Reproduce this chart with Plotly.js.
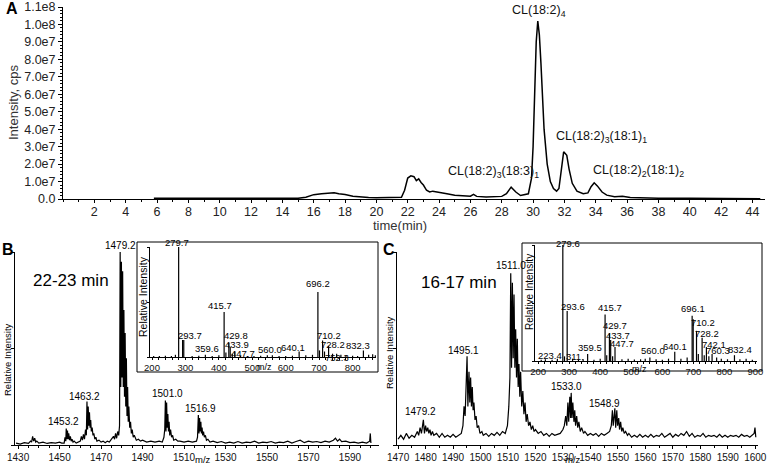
<!DOCTYPE html>
<html>
<head>
<meta charset="utf-8">
<script src="https://cdn.plot.ly/plotly-3.0.1.min.js"></script>
<style>
  html, body { margin: 0; padding: 0; background: #fff; }
  #chart { width: 771px; height: 464px; }
</style>
</head>
<body>
<div id="chart"></div>
<script>
// === Panel A: total ion chromatogram ===
const timeMin = [5.8, 7, 8, 9, 10, 11, 12, 13, 14, 15,
  15.5, 16, 16.5, 17, 17.3, 17.6, 18, 18.5, 19, 19.5,
  20, 21, 21.6, 21.8, 22.0, 22.2, 22.4, 22.55, 22.7, 22.85,
  23.0, 23.2, 23.4, 23.6, 24.0, 24.5, 25, 25.5, 26.0, 26.2,
  26.4, 27, 27.5, 28, 28.3, 28.6, 28.9, 29.2, 29.7, 29.9,
  30.0, 30.1, 30.2, 30.3, 30.4, 30.5, 30.6, 30.7, 30.9, 31.1,
  31.3, 31.5, 31.65, 31.8, 31.95, 32.05, 32.15, 32.3, 32.5, 32.8,
  33.2, 33.5, 33.7, 33.9, 34.1, 34.4, 34.7, 35.2, 35.7, 36.2,
  37, 38, 40, 42, 44.5];
const intensityCps = [0.5e6, 0.5e6, 0.4e6, 0.5e6, 0.4e6, 0.4e6, 0.3e6, 0.4e6, 0.3e6, 0.4e6,
  1.0e6, 2.5e6, 3.0e6, 3.2e6, 3.6e6, 3.0e6, 2.6e6, 1.6e6, 1.0e6, 0.8e6,
  0.7e6, 0.8e6, 1.0e6, 5.0e6, 12.0e6, 13.3e6, 12.8e6, 10.5e6, 11.5e6, 9.5e6,
  8.0e6, 5.0e6, 4.0e6, 4.5e6, 4.0e6, 3.0e6, 2.2e6, 1.8e6, 1.6e6, 2.6e6,
  1.5e6, 1.2e6, 1.3e6, 1.5e6, 3.0e6, 6.8e6, 4.0e6, 2.0e6, 3.0e6, 12e6,
  30e6, 60e6, 90e6, 102e6, 94e6, 78e6, 58e6, 40e6, 20e6, 10e6,
  6e6, 4.5e6, 6e6, 16e6, 27e6, 26e6, 25e6, 17e6, 9e6, 4.5e6,
  3e6, 3.5e6, 7e6, 9.3e6, 7.5e6, 4e6, 2.2e6, 1.3e6, 1.6e6, 0.8e6,
  0.6e6, 0.5e6, 0.4e6, 0.3e6, 0.1e6];
const aYTicks = [0, 1e7, 2e7, 3e7, 4e7, 5e7, 6e7, 7e7, 8e7, 9e7, 1e8, 1.1e8];
const aYTickText = ['0.0', '1.0e7', '2.0e7', '3.0e7', '4.0e7', '5.0e7', '6.0e7', '7.0e7', '8.0e7', '9.0e7', '1.0e8', '1.1e8'];
const aXTicks = [2, 4, 6, 8, 10, 12, 14, 16, 18, 20, 22, 24, 26, 28, 30, 32, 34, 36, 38, 40, 42, 44];

// === Panel B: MS spectrum 22-23 min ===
const bMz = [
  1429, 1431, 1433, 1435, 1436, 1436.5, 1437, 1437.5, 1438, 1438.5, 1439, 1440, 1442, 1444, 1446, 1448, 1450, 1451,
  1452.2, 1452.6, 1453.0, 1453.2, 1453.5, 1453.8, 1454.1, 1454.4, 1454.8, 1455.2, 1455.6, 1456, 1456.5, 1457, 1458, 1459,
  1460, 1460.5, 1461, 1461.5, 1462, 1462.5, 1462.9, 1463.2, 1463.5, 1463.8, 1464.1, 1464.4, 1464.7, 1465, 1465.3, 1465.7, 1466.1, 1466.5, 1467, 1467.5,
  1468, 1469, 1470, 1471, 1472, 1473, 1474, 1475, 1476, 1476.5, 1477, 1477.5, 1478, 1478.5, 1478.9,
  1479.2, 1479.5, 1479.8, 1480.1, 1480.4, 1480.7, 1481, 1481.3, 1481.6, 1481.9, 1482.2, 1482.5, 1482.8, 1483.1, 1483.4, 1483.8, 1484.2, 1484.6, 1485, 1485.5,
  1486, 1487, 1488, 1489, 1490, 1492, 1494, 1496, 1498, 1499.5, 1500.3, 1500.7,
  1501.0, 1501.3, 1501.6, 1501.9, 1502.2, 1502.5, 1502.8, 1503.1, 1503.5, 1504, 1504.5, 1505, 1506, 1507, 1508, 1510, 1512, 1514, 1516, 1516.5,
  1516.9, 1517.2, 1517.5, 1517.8, 1518.1, 1518.4, 1518.7, 1519, 1519.4, 1519.8, 1520.3, 1520.8, 1521.5, 1522.5, 1524, 1526, 1528, 1530, 1532, 1534,
  1536, 1538, 1540, 1542, 1544, 1546, 1548, 1550, 1552, 1554, 1556, 1558, 1560, 1562, 1564, 1566, 1568, 1570, 1572, 1574,
  1576, 1578, 1580, 1582, 1583, 1584, 1585, 1586, 1588, 1590, 1592, 1594, 1596, 1598, 1599.5, 1599.8, 1600.1];
const bRel = [
  0.01, 0.005, 0.012, 0.008, 0.02, 0.015, 0.045, 0.02, 0.035, 0.015, 0.02, 0.01, 0.015, 0.008, 0.012, 0.01, 0.015, 0.01,
  0.01, 0.04, 0.02, 0.085, 0.03, 0.075, 0.03, 0.06, 0.025, 0.045, 0.02, 0.03, 0.015, 0.02, 0.01, 0.015,
  0.02, 0.045, 0.025, 0.055, 0.03, 0.08, 0.05, 0.225, 0.08, 0.2, 0.1, 0.17, 0.09, 0.13, 0.07, 0.09, 0.05, 0.06, 0.03, 0.04,
  0.02, 0.025, 0.015, 0.02, 0.012, 0.02, 0.015, 0.03, 0.045, 0.03, 0.06, 0.035, 0.07, 0.05, 0.1,
  1.0, 0.3, 0.95, 0.35, 0.9, 0.3, 0.7, 0.25, 0.58, 0.2, 0.45, 0.15, 0.3, 0.12, 0.2, 0.09, 0.12, 0.06, 0.08, 0.04,
  0.05, 0.025, 0.03, 0.02, 0.025, 0.015, 0.02, 0.015, 0.02, 0.015, 0.04, 0.08,
  0.23, 0.07, 0.22, 0.09, 0.16, 0.07, 0.12, 0.05, 0.08, 0.04, 0.05, 0.025, 0.03, 0.02, 0.02, 0.015, 0.02, 0.015, 0.02, 0.04,
  0.155, 0.06, 0.14, 0.07, 0.12, 0.06, 0.09, 0.05, 0.07, 0.04, 0.05, 0.025, 0.03, 0.015, 0.02, 0.012, 0.018, 0.01, 0.015, 0.01,
  0.018, 0.01, 0.015, 0.012, 0.02, 0.01, 0.015, 0.012, 0.018, 0.01, 0.015, 0.012, 0.02, 0.01, 0.018, 0.025, 0.012, 0.02, 0.015, 0.018,
  0.012, 0.02, 0.015, 0.025, 0.035, 0.02, 0.03, 0.018, 0.02, 0.012, 0.015, 0.01, 0.015, 0.01, 0.02, 0.06, 0.01];
const bLabels = ['1453.2', '1463.2', '1479.2', '1501.0', '1516.9'];
const bXTicks = [1430, 1450, 1470, 1490, 1510, 1530, 1550, 1570, 1590];

// B inset: MS/MS fragments
const biMz = [205, 222, 240, 258, 270, 279.7, 291.5, 295, 320, 340, 359.6, 380, 400, 415.7, 421, 429.8, 433.9, 440, 447.7, 465,
  485, 505, 525, 545, 560, 580, 600, 620, 640.1, 660, 680, 696.2, 701, 710.2, 716, 728.2, 740, 752.3, 765, 780,
  800, 815, 832.3, 848, 860, 868];
const biRel = [0.01, 0.008, 0.012, 0.01, 0.02, 1.0, 0.155, 0.155, 0.01, 0.012, 0.02, 0.01, 0.015, 0.41, 0.04, 0.13, 0.09, 0.03, 0.05, 0.012,
  0.008, 0.01, 0.012, 0.015, 0.015, 0.01, 0.008, 0.012, 0.05, 0.015, 0.02, 0.59, 0.06, 0.15, 0.05, 0.1, 0.03, 0.03, 0.02, 0.015,
  0.012, 0.01, 0.06, 0.02, 0.025, 0.015];
const biLabels = ['279.7', '293.7', '359.6', '415.7', '429.8', '433.9', '447.7', '560.0', '640.1', '696.2', '710.2', '728.2', '752.3', '832.3'];
const biXTicks = [200, 300, 400, 500, 600, 700, 800];

// === Panel C: MS spectrum 16-17 min ===
const cMz = [
  1470, 1471, 1472, 1473, 1474, 1475, 1476, 1477, 1477.5, 1478, 1478.5, 1479.2, 1479.6, 1480, 1480.4, 1480.8, 1481.2, 1481.6, 1482, 1482.5,
  1483, 1484, 1485, 1486, 1487, 1488, 1489, 1490, 1491, 1492, 1493, 1493.6, 1494, 1494.4, 1494.8, 1495.1, 1495.4, 1495.8, 1496.1, 1496.4,
  1496.7, 1497, 1497.3, 1497.6, 1498, 1498.4, 1498.8, 1499.3, 1499.8, 1500.5, 1501, 1502, 1503, 1504, 1505, 1506, 1507, 1508, 1509, 1509.8,
  1510.3, 1510.7, 1511.0, 1511.3, 1511.6, 1511.9, 1512.2, 1512.5, 1512.8, 1513.1, 1513.4, 1513.7, 1514, 1514.3, 1514.6, 1515, 1515.4, 1515.8, 1516.2, 1516.6,
  1517, 1517.5, 1518, 1518.5, 1519, 1519.5, 1520, 1521, 1522, 1523, 1524, 1525, 1526, 1527, 1528, 1529, 1530, 1530.5, 1531, 1531.4,
  1531.8, 1532.1, 1532.5, 1532.8, 1533.0, 1533.3, 1533.6, 1534, 1534.3, 1534.6, 1535, 1535.4, 1535.8, 1536.3, 1536.8, 1537.5, 1538, 1539, 1540, 1541,
  1542, 1543, 1544, 1545, 1546, 1547, 1547.6, 1548, 1548.3, 1548.9, 1549.2, 1549.6, 1549.9, 1550.3, 1550.6, 1551, 1551.4, 1551.8, 1552.3, 1552.8,
  1553.5, 1554, 1555, 1556, 1557, 1558, 1559, 1560, 1561, 1562, 1563, 1564, 1565, 1566, 1567, 1568, 1569, 1570, 1571, 1572,
  1573, 1574, 1575, 1576, 1577, 1578, 1579, 1580, 1581, 1582, 1583, 1584, 1585, 1586, 1587, 1588, 1589, 1590, 1591, 1592,
  1593, 1594, 1595, 1596, 1597, 1598, 1599, 1599.6, 1599.9, 1600.2];
const cRel = [
  0.03, 0.05, 0.03, 0.06, 0.035, 0.05, 0.04, 0.07, 0.05, 0.09, 0.06, 0.13, 0.06, 0.1, 0.07, 0.09, 0.06, 0.08, 0.05, 0.07,
  0.05, 0.06, 0.04, 0.06, 0.04, 0.05, 0.04, 0.055, 0.04, 0.05, 0.06, 0.1, 0.2, 0.15, 0.3, 0.46, 0.2, 0.38, 0.22, 0.35,
  0.2, 0.3, 0.18, 0.22, 0.13, 0.15, 0.09, 0.1, 0.06, 0.07, 0.05, 0.06, 0.045, 0.06, 0.05, 0.065, 0.05, 0.07, 0.06, 0.1,
  0.2, 0.35, 0.89, 0.4, 0.84, 0.45, 0.78, 0.4, 0.6, 0.35, 0.55, 0.3, 0.42, 0.25, 0.38, 0.2, 0.28, 0.16, 0.22, 0.12,
  0.16, 0.1, 0.12, 0.08, 0.1, 0.07, 0.08, 0.06, 0.07, 0.05, 0.06, 0.045, 0.06, 0.05, 0.055, 0.06, 0.08, 0.1, 0.15, 0.1,
  0.22, 0.12, 0.25, 0.14, 0.27, 0.14, 0.22, 0.12, 0.18, 0.1, 0.15, 0.09, 0.12, 0.07, 0.09, 0.06, 0.07, 0.05, 0.06, 0.05,
  0.06, 0.045, 0.06, 0.05, 0.06, 0.07, 0.1, 0.18, 0.1, 0.19, 0.09, 0.18, 0.1, 0.14, 0.08, 0.12, 0.07, 0.09, 0.06, 0.07,
  0.05, 0.06, 0.04, 0.05, 0.04, 0.055, 0.04, 0.05, 0.04, 0.055, 0.04, 0.05, 0.045, 0.06, 0.04, 0.05, 0.06, 0.04, 0.055, 0.045,
  0.06, 0.05, 0.07, 0.045, 0.06, 0.04, 0.05, 0.045, 0.06, 0.04, 0.05, 0.045, 0.05, 0.04, 0.055, 0.04, 0.05, 0.04, 0.05, 0.045,
  0.05, 0.04, 0.055, 0.045, 0.05, 0.04, 0.05, 0.06, 0.09, 0.04];
const cLabels = ['1479.2', '1495.1', '1511.0', '1533.0', '1548.9'];
const cXTicks = [1470, 1480, 1490, 1500, 1510, 1520, 1530, 1540, 1550, 1560, 1570, 1580, 1590, 1600];

// C inset: MS/MS fragments
const ciMz = [210, 223.4, 245, 262, 279.6, 285, 293.6, 311, 330, 345, 359.5, 380, 400, 415.7, 421, 429.7, 433.7, 440, 447.7, 470,
  490, 510, 530, 545, 560, 580, 600, 620, 640.1, 660, 680, 696.1, 699.5, 710.2, 716, 728.2, 735, 742.1, 750, 760.3,
  775, 790, 810, 832.4, 850, 870, 890];
const ciRel = [0.01, 0.015, 0.01, 0.02, 1.0, 0.04, 0.43, 0.02, 0.01, 0.015, 0.06, 0.01, 0.02, 0.4, 0.05, 0.24, 0.18, 0.04, 0.12, 0.015,
  0.02, 0.012, 0.015, 0.02, 0.03, 0.015, 0.01, 0.02, 0.08, 0.02, 0.03, 0.39, 0.36, 0.26, 0.06, 0.2, 0.05, 0.12, 0.04, 0.06,
  0.03, 0.02, 0.015, 0.05, 0.015, 0.02, 0.01];
const ciLabels = ['223.4', '279.6', '293.6', '311.', '359.5', '415.7', '429.7', '433.7', '447.7', '560.0', '640.1', '696.1', '710.2', '728.2', '742.1', '760.3', '832.4'];
const ciXTicks = [200, 300, 400, 500, 600, 700, 800, 900];

// ---------------------------------------------------------------
const W = 771, H = 464;
const FONT = 'Arial, "Liberation Sans", sans-serif';
const px = x => x / W;          // pixel -> paper x
const py = y => 1 - y / H;      // pixel -> paper y

// stick spectrum (m/z, height) -> vertical segments
function sticks(mz, rel) {
    const x = [], y = [];
    mz.forEach((m, i) => { x.push(m, m, null); y.push(0, rel[i], null); });
    return { x, y };
}

// height of the nearest point in a series
function heightAt(mz, rel, m) {
    let best = 0;
    mz.forEach((v, i) => { if (Math.abs(v - m) < Math.abs(mz[best] - m)) best = i; });
    return rel[best];
}

function baseAxis(extra) {
    return Object.assign({
        showline: true, linecolor: '#000', linewidth: 1,
        ticks: 'outside', ticklen: 3, tickcolor: '#000', tickwidth: 1,
        showgrid: false, zeroline: false, fixedrange: true,
        tickfont: { family: FONT, size: 10, color: '#111' }
    }, extra);
}

const biSticks = sticks(biMz, biRel);
const ciSticks = sticks(ciMz, ciRel);
const lineStyle = { color: '#000', width: 1.2 };

const traces = [
    { x: timeMin, y: intensityCps, xaxis: 'x', yaxis: 'y', mode: 'lines', line: { color: '#000', width: 1.5 }, hoverinfo: 'skip' },
    { x: bMz, y: bRel, xaxis: 'x2', yaxis: 'y2', mode: 'lines', line: lineStyle, hoverinfo: 'skip' },
    { x: biSticks.x, y: biSticks.y, xaxis: 'x3', yaxis: 'y3', mode: 'lines', line: { color: '#000', width: 1.2 }, hoverinfo: 'skip' },
    { x: cMz, y: cRel, xaxis: 'x4', yaxis: 'y4', mode: 'lines', line: lineStyle, hoverinfo: 'skip' },
    { x: ciSticks.x, y: ciSticks.y, xaxis: 'x5', yaxis: 'y5', mode: 'lines', line: { color: '#000', width: 1.2 }, hoverinfo: 'skip' }
];

// peak label offsets in pixels [dx, dy] (dy positive = down)
const bShift = { '1453.2': [-3, 0], '1463.2': [-2, 2], '1479.2': [0, 1], '1501.0': [2, 0], '1516.9': [2, 1] };
const cShift = { '1479.2': [-3, -1], '1495.1': [-4, 2], '1511.0': [0, 0], '1533.0': [-5, 1], '1548.9': [-10, 3] };
const biShift = { '279.7': [-2, 3], '293.7': [7, 3], '359.6': [2, 1], '415.7': [-4, 1], '429.8': [7, 0], '433.9': [7, 5],
    '447.7': [8, 9], '560.0': [-2, 2], '640.1': [-6, 3], '696.2': [0, -1], '710.2': [6, 2], '728.2': [4, 6], '752.3': [0, 11], '832.3': [-5, 3] };
const ciShift = { '223.4': [5, 4], '279.6': [5, 6], '293.6': [6, 3], '311.': [2, 5], '359.5': [2, 1], '415.7': [5, 0], '429.7': [6, 0],
    '433.7': [7, 3], '447.7': [7, 4], '560.0': [3, 0], '640.1': [0, 2], '696.1': [1, 0], '710.2': [6, -1], '728.2': [5, 3], '742.1': [8, 5],
    '760.3': [6, 4], '832.4': [6, 2] };

function peakLabels(labels, mz, rel, xa, ya, shifts, size) {
    return labels.map(t => {
        const m = parseFloat(t);
        const s = shifts[t] || [0, 0];
        return {
            x: m, y: heightAt(mz, rel, m), xref: xa, yref: ya, text: t, showarrow: false,
            xanchor: 'center', yanchor: 'bottom', xshift: s[0], yshift: -s[1],
            font: { family: FONT, size: size, color: '#000' }
        };
    });
}

function paperText(text, x, y, size, opts) {
    return Object.assign({
        text, x: px(x), y: py(y), xref: 'paper', yref: 'paper', showarrow: false,
        xanchor: 'center', yanchor: 'middle', font: { family: FONT, size, color: '#000' }
    }, opts || {});
}

const annFont = { family: FONT, size: 12.5, color: '#111' };
const annotations = [
    // panel A peak names
    { x: 30.35, y: 1.02e8, xref: 'x', yref: 'y', text: 'CL(18:2)<sub>4</sub>', showarrow: false, yanchor: 'bottom', font: annFont },
    { x: 34.35, y: 3.55e7, xref: 'x', yref: 'y', text: 'CL(18:2)<sub>3</sub>(18:1)<sub>1</sub>', showarrow: false, font: annFont },
    { x: 27.5, y: 1.55e7, xref: 'x', yref: 'y', text: 'CL(18:2)<sub>3</sub>(18:3)<sub>1</sub>', showarrow: false, font: annFont },
    { x: 36.7, y: 1.6e7, xref: 'x', yref: 'y', text: 'CL(18:2)<sub>2</sub>(18:1)<sub>2</sub>', showarrow: false, font: annFont },
    // panel letters
    paperText('<b>A</b>', 12, 9, 16),
    paperText('<b>B</b>', 8, 249, 16),
    paperText('<b>C</b>', 389, 249, 16),
    // axis titles
    paperText('Intensity, cps', 13, 103, 13, { textangle: -90, font: { family: FONT, size: 13, color: '#333' } }),
    paperText('time(min)', 400, 226, 13, { font: { family: FONT, size: 13, color: '#333' } }),
    paperText('Relative Intensity', 7, 360, 9.5, { textangle: -90 }),
    paperText('m/z', 203, 459, 9.5),
    paperText('Relative Intensity', 389, 353, 9.5, { textangle: -90 }),
    paperText('m/z', 573, 459, 9.5),
    paperText('Relative Intensity', 143, 297, 10.5, { textangle: -90 }),
    paperText('m/z', 264, 367, 9),
    paperText('Relative Intensity', 529, 292, 10, { textangle: -90 }),
    paperText('m/z', 639, 369, 9),
    // time windows
    paperText('22-23 min', 71, 280, 17),
    paperText('16-17 min', 459, 282, 17)
].concat(
    peakLabels(bLabels, bMz, bRel, 'x2', 'y2', bShift, 10),
    peakLabels(cLabels, cMz, cRel, 'x4', 'y4', cShift, 10),
    peakLabels(biLabels, biMz, biRel, 'x3', 'y3', biShift, 9.5),
    peakLabels(ciLabels, ciMz, ciRel, 'x5', 'y5', ciShift, 9.5)
);

const frame = (x0, y0, x1, y1) => ({
    type: 'rect', xref: 'paper', yref: 'paper', x0: px(x0), x1: px(x1), y0: py(y1), y1: py(y0),
    line: { color: '#000', width: 1 }
});

const layout = {
    width: W, height: H,
    margin: { l: 0, r: 0, t: 0, b: 0 },
    paper_bgcolor: '#fff', plot_bgcolor: 'rgba(0,0,0,0)',
    showlegend: false,
    font: { family: FONT, color: '#000' },

    xaxis: baseAxis({ domain: [px(63), px(765)], anchor: 'y', range: [0, 44.8], tickmode: 'array', tickvals: aXTicks,
        ticklen: 3, ticklabelstandoff: -2, tickfont: { family: FONT, size: 12.5, color: '#222' },
        minor: { dtick: 1, tick0: 0, ticklen: 2, ticks: 'outside', tickcolor: '#000' } }),
    yaxis: baseAxis({ domain: [py(199), py(7)], anchor: 'x', range: [0, 1.1e8], tickmode: 'array', tickvals: aYTicks, ticktext: aYTickText,
        ticklen: 4, tickfont: { family: FONT, size: 12.5, color: '#222' },
        minor: { dtick: 2e6, tick0: 0, ticklen: 2, ticks: 'outside', tickcolor: '#000' } }),

    xaxis2: baseAxis({ domain: [px(15), px(379)], anchor: 'y2', range: [1428.5, 1604], tickmode: 'array', tickvals: bXTicks,
        minor: { dtick: 5, tick0: 1430, ticklen: 2, ticks: 'outside', tickcolor: '#000' } }),
    yaxis2: baseAxis({ domain: [py(445), py(252)], anchor: 'x2', range: [0, 1], tickmode: 'array', tickvals: [0, 0.5, 1], showticklabels: false }),

    xaxis3: baseAxis({ domain: [px(150), px(376)], anchor: 'y3', range: [194, 870], tickmode: 'array', tickvals: biXTicks,
        ticklen: 2, tickfont: { family: FONT, size: 9.5, color: '#111' },
        minor: { dtick: 20, tick0: 200, ticklen: 2, ticks: 'outside', tickcolor: '#000' } }),
    yaxis3: baseAxis({ domain: [py(357), py(247)], anchor: 'x3', range: [0, 1], tickmode: 'array', tickvals: [0, 0.5, 1], ticklen: 2, showticklabels: false }),

    xaxis4: baseAxis({ domain: [px(397), px(758)], anchor: 'y4', range: [1469.6, 1601], tickmode: 'array', tickvals: cXTicks,
        minor: { dtick: 5, tick0: 1470, ticklen: 2, ticks: 'outside', tickcolor: '#000' } }),
    yaxis4: baseAxis({ domain: [py(445), py(252)], anchor: 'x4', range: [0, 1], tickmode: 'array', tickvals: [0, 0.5, 1], showticklabels: false }),

    xaxis5: baseAxis({ domain: [px(535), px(757)], anchor: 'y5', range: [190, 905], tickmode: 'array', tickvals: ciXTicks,
        ticklen: 2, tickfont: { family: FONT, size: 9.5, color: '#111' },
        minor: { dtick: 20, tick0: 200, ticklen: 2, ticks: 'outside', tickcolor: '#000' } }),
    yaxis5: baseAxis({ domain: [py(361), py(245)], anchor: 'x5', range: [0, 1], tickmode: 'array', tickvals: [0, 0.5, 1], ticklen: 2, showticklabels: false }),

    shapes: [frame(137, 242, 378, 372), frame(522, 243, 762, 371)],
    annotations: annotations
};

Plotly.newPlot('chart', traces, layout, { staticPlot: true, displayModeBar: false });
</script>
</body>
</html>
